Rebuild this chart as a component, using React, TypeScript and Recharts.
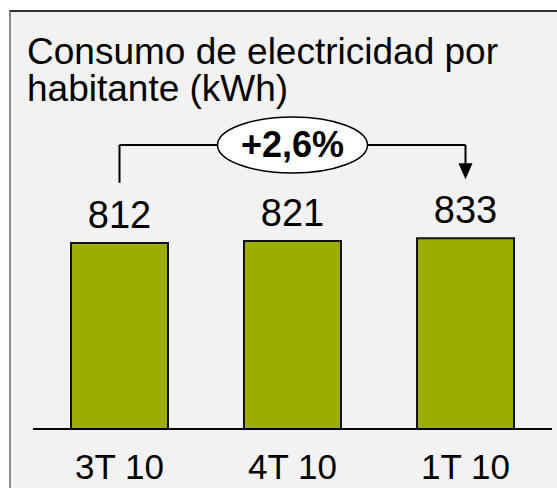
import { BarChart, Bar, XAxis, YAxis, LabelList, ReferenceLine, ReferenceDot } from "recharts";

const quarters = ["3T 10", "4T 10", "1T 10"];
const consumption = [812, 821, 833];
const growthLabel = "+2,6%";

// bracket levels, in kWh units of the hidden y axis
const Y_MAX = 1240;
const BRACKET_TOP = 1240;
const BRACKET_LEFT_END = 1075;
const ARROW_TIP = 1090;

const data = quarters.map((q, i) => ({ quarter: q, value: consumption[i] }));

const FONT = '"Liberation Sans", Arial, sans-serif';
const BAR_COLOR = "#9BAE00";

function GrowthBadge(props: any) {
  const { cx, cy } = props;
  return (
    <g>
      <ellipse cx={cx} cy={cy} rx={75} ry={28} fill="#fff" stroke="#000" strokeWidth={1.5} />
      <text
        x={cx}
        y={cy + 12}
        textAnchor="middle"
        fontFamily={FONT}
        fontWeight={700}
        fontSize={36}
        fill="#000"
      >
        {growthLabel}
      </text>
    </g>
  );
}

function ArrowHead(props: any) {
  const { cx, cy } = props;
  return <polygon points={`${cx - 7},${cy - 16} ${cx + 7},${cy - 16} ${cx},${cy}`} fill="#000" />;
}

export default function App() {
  return (
    <div style={{ position: "absolute", left: 0, top: 0, width: 557, height: 488, background: "#fff", overflow: "hidden", fontFamily: FONT }}>
      {/* slide frame */}
      <div
        style={{
          position: "absolute",
          left: 9,
          top: 10,
          width: 600,
          height: 520,
          background: "#f2f2f2",
          borderTop: "2px solid #333",
          borderLeft: "2px solid #8a8a8a",
        }}
      />
      <div style={{ position: "absolute", left: 27, top: 33, fontSize: 37, lineHeight: "37px", color: "#000" }}>
        Consumo de electricidad por
        <br />
        habitante (kWh)
      </div>
      <div style={{ position: "absolute", left: 0, top: 0 }}>
        <BarChart width={557} height={488} data={data} margin={{ top: 145, right: 5, bottom: 0, left: 33 }}>
          <XAxis
            dataKey="quarter"
            axisLine={{ stroke: "#000", strokeWidth: 2 }}
            tickLine={false}
            tickSize={0}
            tickMargin={25}
            tick={{ fontSize: 35, fill: "#000", fontFamily: FONT }}
            height={59}
          />
          <YAxis hide domain={[0, Y_MAX]} />
          <Bar dataKey="value" fill={BAR_COLOR} stroke="#111" strokeWidth={2} barSize={97} isAnimationActive={false}>
            <LabelList dataKey="value" position="top" offset={15} fill="#000" fontSize={38} fontFamily={FONT} />
          </Bar>
          <ReferenceLine
            segment={[{ x: quarters[0], y: BRACKET_LEFT_END }, { x: quarters[0], y: BRACKET_TOP }]}
            stroke="#000"
            strokeWidth={2}
            ifOverflow="visible"
          />
          <ReferenceLine
            segment={[{ x: quarters[0], y: BRACKET_TOP }, { x: quarters[2], y: BRACKET_TOP }]}
            stroke="#000"
            strokeWidth={2}
            ifOverflow="visible"
          />
          <ReferenceLine
            segment={[{ x: quarters[2], y: BRACKET_TOP }, { x: quarters[2], y: ARROW_TIP + 40 }]}
            stroke="#000"
            strokeWidth={2}
            ifOverflow="visible"
          />
          <ReferenceDot x={quarters[2]} y={ARROW_TIP} ifOverflow="visible" shape={ArrowHead} />
          <ReferenceDot x={quarters[1]} y={BRACKET_TOP} ifOverflow="visible" shape={GrowthBadge} />
        </BarChart>
      </div>
    </div>
  );
}
